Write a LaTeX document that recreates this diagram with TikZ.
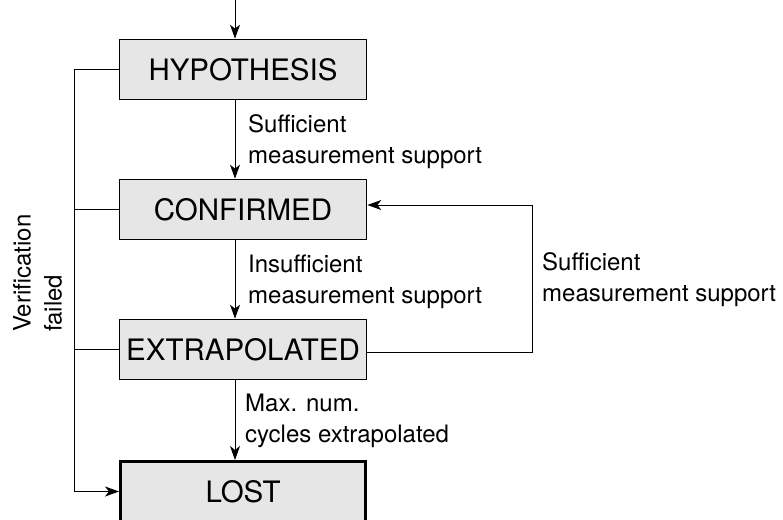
\documentclass[tikz,border=0pt]{standalone}
\usepackage{fontspec}
\setmainfont{TeX Gyre Heros}
\usetikzlibrary{arrows.meta,positioning,calc}
\definecolor{boxgray}{HTML}{E6E6E6}
\tikzset{
  state/.style={draw=black, fill=boxgray, line width=1.7pt,
    minimum width=247pt, minimum height=60pt, inner sep=0pt,
    font=\fontsize{29.5}{35}\selectfont},
  laststate/.style={state, line width=3pt, minimum width=245pt},
  flow/.style={-{Stealth[length=14pt,width=10pt,inset=4pt]}, line width=0.9pt},
  wire/.style={line width=0.9pt},
  note/.style={anchor=north west, inner sep=0pt, align=left,
    font=\fontsize{24}{31}\selectfont},
}

\begin{document}
\begin{tikzpicture}[x=1pt,y=-1pt]
  \useasboundingbox (0,0) rectangle (783,519);
  % states
  \node[state] (hyp) at (243,69.5) {HYPOTHESIS};
  \node[state] (conf) at (243,209.5) {CONFIRMED};
  \node[state] (extra) at (243,349.5) {EXTRAPOLATED};
  \node[laststate] (lost) at (243,491.5) {LOST};
  % helper columns
  \coordinate (entry) at (235,0);
  \coordinate (failx) at (74,0);
  \coordinate (backx) at (532,0);
  \coordinate (backin) at ([yshift=4.5pt]conf.east);
  \coordinate (backout) at ([yshift=-2.5pt]extra.east);
  % straight transitions
  \draw[flow] (entry) -- (entry |- hyp.north);
  \draw[flow] (entry |- hyp.south) -- (entry |- conf.north);
  \draw[flow] (entry |- conf.south) -- (entry |- extra.north);
  \draw[flow] (entry |- extra.south) -- (entry |- lost.north);
  % verification failed
  \draw[flow] (hyp.west) -| (failx |- lost.west) -- (lost.west);
  \draw[wire] (conf.west) -- (failx |- conf.west);
  \draw[wire] (extra.west) -- (failx |- extra.west);
  % back to confirmed
  \draw[flow] (backout) -| (backx |- backin) -- (backin);
  % labels
  \node[note] (sufflab) at (248,114) {Sufficient\\measurement support};
  \node[note] (insufflab) at (248,255) {Insufficient\\measurement support};
  \node[note] (maxlab) at (245,394) {Max. num.\\cycles extrapolated};
  \node[note] (backlab) at (542,252) {Sufficient\\measurement support};
  \node[rotate=90, align=left, anchor=west, inner sep=0pt,
        font=\fontsize{24}{31}\selectfont] (faillab) at (37.5,332) {Verification\\failed};
\end{tikzpicture}
\end{document}
